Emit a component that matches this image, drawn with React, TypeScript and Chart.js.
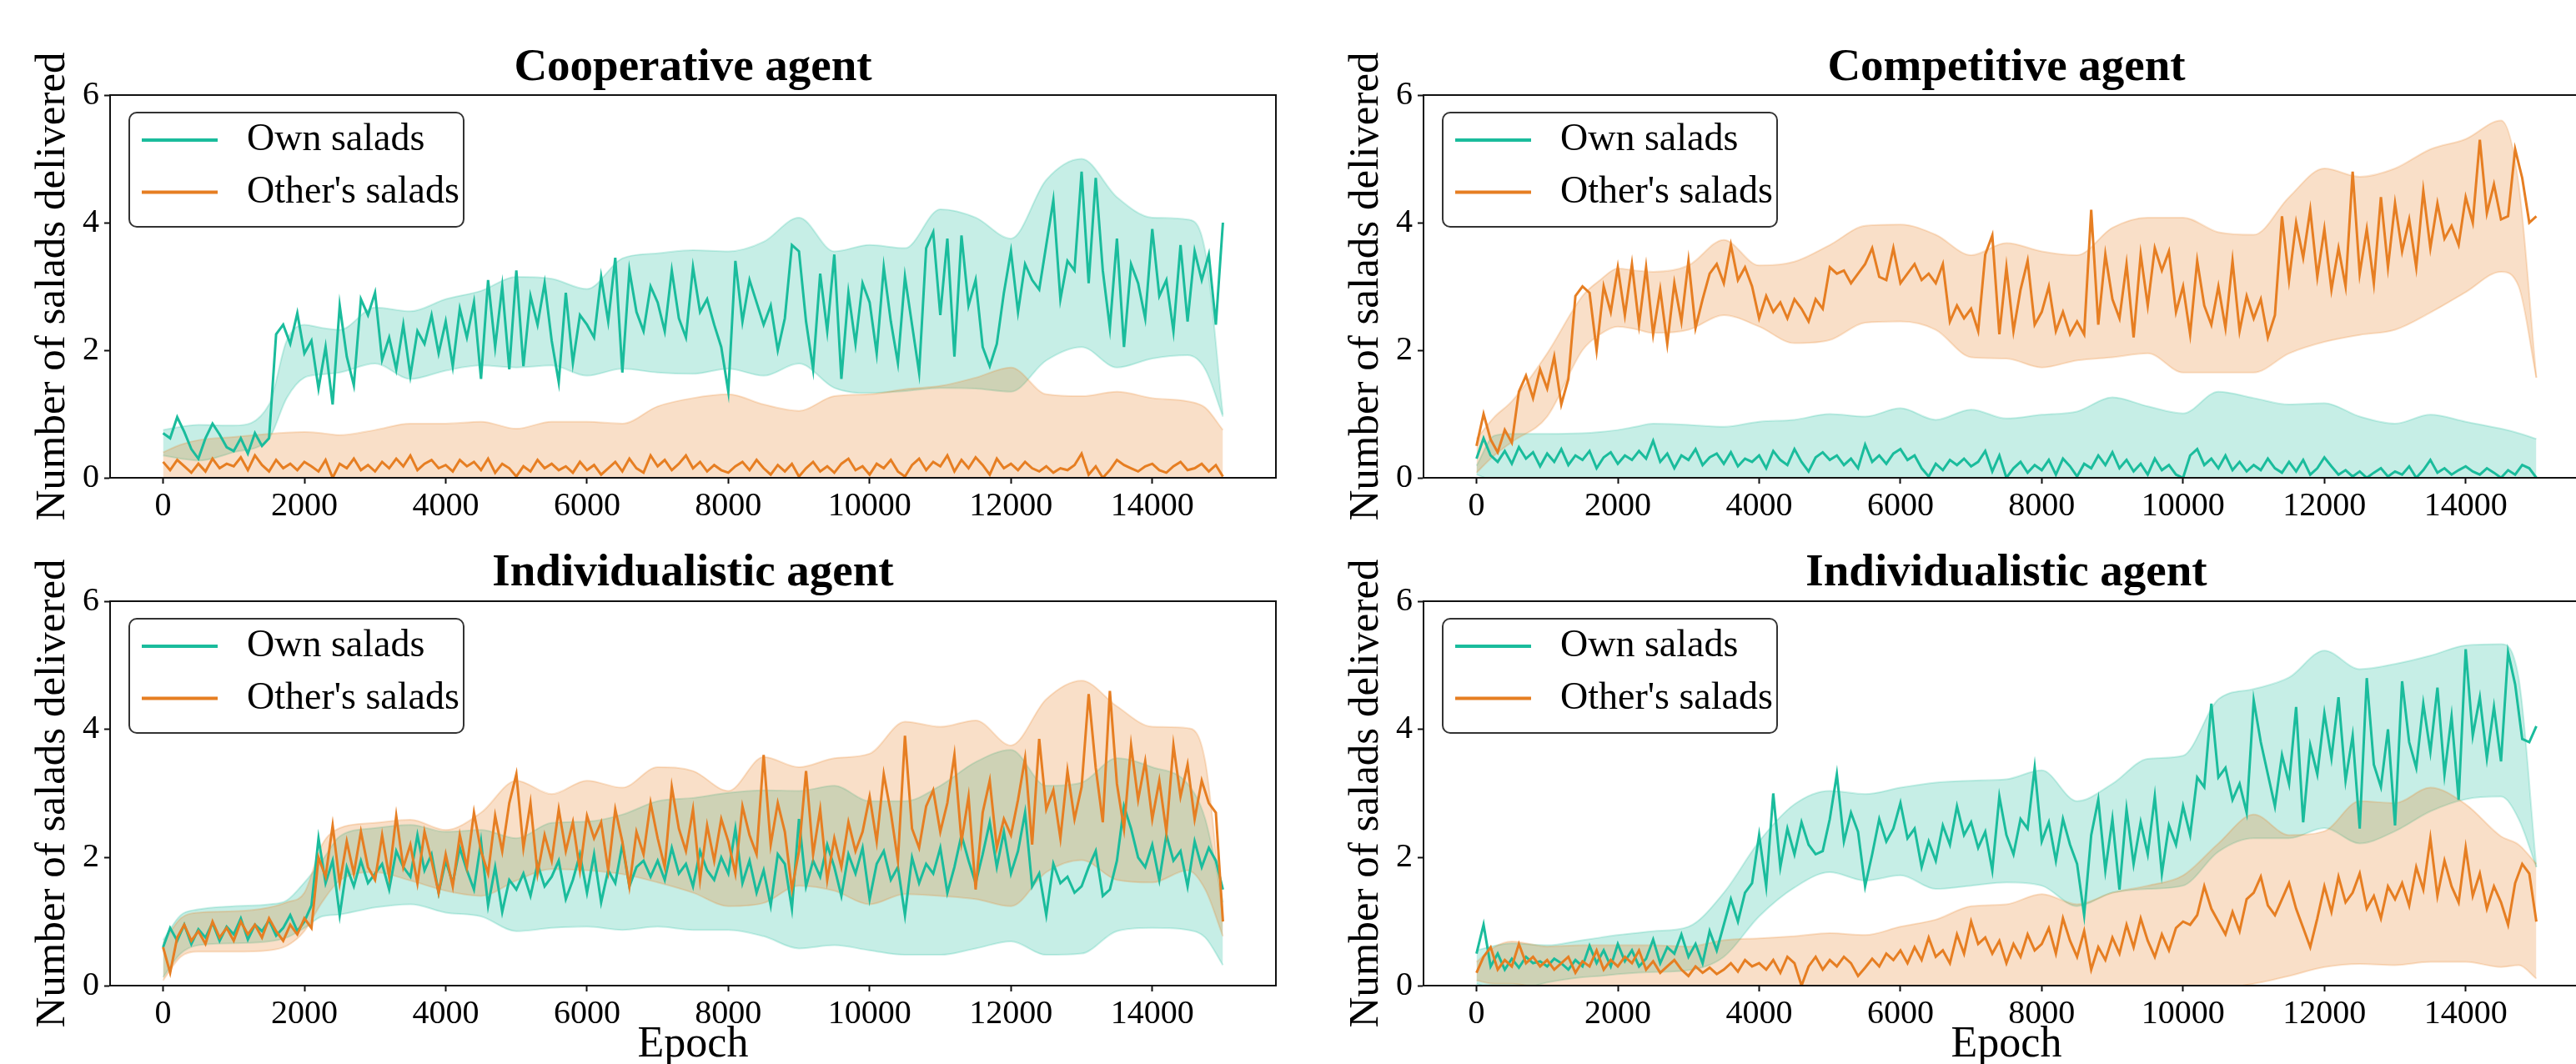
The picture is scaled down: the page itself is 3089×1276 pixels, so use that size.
import React, { useEffect, useRef } from 'react';
import { Chart, registerables } from 'chart.js';

Chart.register(...registerables);

// ---------- data ----------
const LINE_STEP = 100;
const lineEpochs: number[] = Array.from({ length: 151 }, (_, i) => i * LINE_STEP);
const bandEpochs = [0, 250, 500, 1000, 1500, 1750, 2000, 2250, 2500, 3000, 3500, 4000, 4500, 5000, 5500, 6000, 6500, 7000, 7500, 8000, 8500, 9000, 9500, 10000, 10500, 11000, 11500, 12000, 12500, 13000, 13500, 14000, 14500, 14750, 15000];
const xTicks = [0, 2000, 4000, 6000, 8000, 10000, 12000, 14000];
const yTicks = [0, 2, 4, 6];
const LEGEND = ['Own salads', "Other's salads"];
const TITLES = ['Cooperative agent', 'Competitive agent', 'Individualistic agent', 'Individualistic agent'];
const Y_TITLE = 'Number of salads delivered';
const X_TITLE = 'Epoch';

// Cooperative agent
const coopOwn = [
  0.70, 0.62, 0.95, 0.72, 0.45, 0.30, 0.62, 0.85, 0.68, 0.48,
  0.42, 0.62, 0.38, 0.70, 0.50, 0.62, 2.25, 2.40, 2.10, 2.58,
  1.95, 2.15, 1.40, 2.05, 1.15, 2.70, 1.90, 1.45, 2.80, 2.55,
  2.90, 1.85, 2.20, 1.70, 2.40, 1.60, 2.30, 2.10, 2.55, 1.95,
  2.45, 1.75, 2.65, 2.20, 2.75, 1.55, 3.10, 2.05, 3.00, 1.70,
  3.25, 1.75, 2.85, 2.40, 3.05, 2.15, 1.50, 2.90, 1.80, 2.55,
  2.40, 2.20, 3.15, 2.45, 3.45, 1.65, 3.25, 2.60, 2.30, 3.00,
  2.75, 2.30, 3.25, 2.50, 2.20, 3.30, 2.60, 2.80, 2.40, 2.05,
  1.35, 3.40, 2.45, 3.10, 2.75, 2.40, 2.70, 2.00, 2.50, 3.65,
  3.55, 2.45, 1.70, 3.20, 2.30, 3.50, 1.55, 2.90, 2.10, 3.05,
  2.75, 1.95, 3.30, 2.45, 1.80, 3.15, 2.40, 1.65, 3.60, 3.85,
  2.55, 3.75, 1.90, 3.80, 2.70, 3.10, 2.05, 1.75, 2.10, 2.90,
  3.55, 2.60, 3.35, 3.10, 2.95, 3.65, 4.35, 2.80, 3.40, 3.25,
  4.80, 3.05, 4.70, 3.25, 2.35, 3.75, 2.05, 3.35, 3.05, 2.50,
  3.90, 2.85, 3.10, 2.30, 3.65, 2.45, 3.55, 3.10, 3.50, 2.40,
  4.00,
];
const coopOther = [
  0.25, 0.12, 0.28, 0.18, 0.08, 0.22, 0.10, 0.30, 0.15, 0.22,
  0.18, 0.32, 0.12, 0.35, 0.20, 0.10, 0.28, 0.15, 0.22, 0.12,
  0.25, 0.18, 0.10, 0.28, 0.00, 0.22, 0.15, 0.30, 0.12, 0.20,
  0.10, 0.25, 0.15, 0.30, 0.18, 0.35, 0.12, 0.22, 0.28, 0.15,
  0.20, 0.10, 0.28, 0.18, 0.25, 0.12, 0.30, 0.08, 0.22, 0.15,
  0.02, 0.18, 0.10, 0.28, 0.15, 0.22, 0.12, 0.18, 0.08, 0.25,
  0.12, 0.20, 0.05, 0.15, 0.25, 0.10, 0.30, 0.15, 0.08, 0.35,
  0.18, 0.28, 0.12, 0.22, 0.35, 0.15, 0.25, 0.10, 0.20, 0.12,
  0.08, 0.18, 0.25, 0.12, 0.28, 0.15, 0.05, 0.20, 0.10, 0.22,
  0.02, 0.15, 0.25, 0.10, 0.18, 0.08, 0.22, 0.30, 0.12, 0.18,
  0.05, 0.22, 0.15, 0.28, 0.10, 0.02, 0.20, 0.30, 0.12, 0.25,
  0.18, 0.35, 0.10, 0.28, 0.15, 0.32, 0.20, 0.05, 0.30, 0.15,
  0.22, 0.12, 0.25, 0.15, 0.10, 0.18, 0.08, 0.15, 0.12, 0.20,
  0.38, 0.05, 0.18, 0.00, 0.12, 0.28, 0.20, 0.15, 0.10, 0.18,
  0.22, 0.12, 0.08, 0.18, 0.25, 0.12, 0.15, 0.22, 0.10, 0.20,
  0.02,
];
const coopOwnHi = [0.75, 0.80, 0.83, 0.82, 1.15, 2.15, 2.40, 2.35, 2.32, 2.67, 2.61, 2.80, 2.93, 3.15, 3.12, 2.96, 3.44, 3.52, 3.57, 3.55, 3.70, 4.08, 3.55, 3.65, 3.60, 4.21, 4.08, 3.75, 4.67, 5.00, 4.40, 4.08, 4.05, 3.55, 0.99];
const coopOwnLo = [0.35, 0.30, 0.27, 0.40, 0.62, 1.25, 1.57, 1.62, 1.65, 1.79, 1.55, 1.68, 1.76, 1.73, 1.76, 1.60, 1.71, 1.65, 1.63, 1.71, 1.60, 1.79, 1.41, 1.33, 1.36, 1.41, 1.40, 1.35, 1.84, 2.05, 1.73, 1.87, 1.92, 1.70, 0.96];
const coopOtherHi = [0.40, 0.52, 0.59, 0.64, 0.69, 0.71, 0.72, 0.70, 0.67, 0.75, 0.85, 0.85, 0.88, 0.77, 0.88, 0.88, 0.85, 1.12, 1.25, 1.31, 1.15, 1.05, 1.28, 1.31, 1.39, 1.44, 1.57, 1.73, 1.31, 1.28, 1.35, 1.25, 1.20, 1.10, 0.75];
const coopOtherLo = [-0.05, -0.08, -0.10, -0.12, -0.15, -0.15, -0.18, -0.20, -0.20, -0.22, -0.25, -0.25, -0.28, -0.25, -0.28, -0.30, -0.30, -0.35, -0.40, -0.42, -0.40, -0.38, -0.42, -0.45, -0.48, -0.50, -0.55, -0.60, -0.50, -0.48, -0.50, -0.45, -0.42, -0.35, -0.20];

// Competitive agent
const compOwn = [
  0.30, 0.62, 0.35, 0.25, 0.42, 0.22, 0.48, 0.30, 0.40, 0.18,
  0.38, 0.25, 0.45, 0.20, 0.35, 0.28, 0.42, 0.15, 0.32, 0.40,
  0.22, 0.35, 0.28, 0.42, 0.30, 0.58, 0.25, 0.38, 0.15, 0.35,
  0.28, 0.45, 0.20, 0.32, 0.38, 0.22, 0.40, 0.18, 0.30, 0.25,
  0.35, 0.15, 0.42, 0.28, 0.20, 0.45, 0.25, 0.10, 0.32, 0.40,
  0.28, 0.35, 0.20, 0.30, 0.15, 0.52, 0.25, 0.35, 0.22, 0.38,
  0.45, 0.28, 0.35, 0.15, 0.02, 0.22, 0.12, 0.28, 0.20, 0.30,
  0.18, 0.25, 0.42, 0.10, 0.35, 0.00, 0.15, 0.25, 0.08, 0.20,
  0.12, 0.28, 0.05, 0.30, 0.18, 0.02, 0.22, 0.15, 0.35, 0.20,
  0.40, 0.15, 0.28, 0.10, 0.22, 0.05, 0.30, 0.12, 0.20, 0.05,
  0.00, 0.35, 0.45, 0.20, 0.30, 0.15, 0.35, 0.12, 0.25, 0.10,
  0.20, 0.12, 0.30, 0.15, 0.08, 0.25, 0.10, 0.28, 0.05, 0.15,
  0.32, 0.18, 0.05, 0.12, 0.02, 0.10, 0.00, 0.08, 0.15, 0.02,
  0.10, 0.05, 0.18, 0.00, 0.12, 0.28, 0.08, 0.15, 0.05, 0.12,
  0.18, 0.10, 0.05, 0.15, 0.08, 0.00, 0.12, 0.05, 0.20, 0.15,
  0.00,
];
const compOther = [
  0.50, 1.00, 0.60, 0.40, 0.75, 0.55, 1.35, 1.60, 1.25, 1.70,
  1.40, 1.90, 1.15, 1.55, 2.85, 3.00, 2.90, 2.00, 3.00, 2.60,
  3.30, 2.55, 3.35, 2.40, 3.30, 2.25, 2.95, 2.10, 3.05, 2.45,
  3.40, 2.35, 2.80, 3.20, 3.35, 3.05, 3.65, 3.10, 3.30, 3.00,
  2.50, 2.85, 2.60, 2.75, 2.50, 2.80, 2.65, 2.45, 2.80, 2.65,
  3.30, 3.20, 3.25, 3.05, 3.20, 3.35, 3.60, 3.15, 3.10, 3.60,
  3.05, 3.20, 3.35, 3.10, 3.20, 3.05, 3.35, 2.45, 2.70, 2.50,
  2.65, 2.30, 3.50, 3.80, 2.25, 3.30, 2.30, 2.95, 3.40, 2.40,
  2.60, 3.00, 2.30, 2.60, 2.25, 2.45, 2.25, 4.20, 2.40, 3.50,
  2.80, 2.50, 3.35, 2.20, 3.50, 2.70, 3.60, 3.25, 3.55, 2.60,
  3.00, 2.25, 3.40, 2.70, 2.40, 3.00, 2.35, 3.40, 2.30, 2.85,
  2.50, 2.80, 2.20, 2.55, 4.10, 3.10, 4.00, 3.45, 4.20, 3.15,
  3.90, 2.95, 3.60, 3.00, 4.80, 3.20, 3.90, 3.05, 4.40, 3.30,
  4.30, 3.55, 4.05, 3.30, 4.50, 3.60, 4.30, 3.75, 3.95, 3.65,
  4.40, 4.00, 5.30, 4.15, 4.60, 4.05, 4.10, 5.15, 4.70, 4.00,
  4.10,
];
const compOwnHi = [0.19, 0.66, 0.69, 0.69, 0.70, 0.72, 0.75, 0.80, 0.85, 0.83, 0.80, 0.88, 0.91, 1.00, 0.96, 1.09, 0.91, 1.07, 0.93, 0.99, 1.04, 1.26, 1.12, 1.01, 1.35, 1.25, 1.15, 1.17, 0.96, 0.85, 0.99, 0.88, 0.77, 0.70, 0.61];
const compOwnLo = [0.05, -0.05, -0.08, -0.10, -0.12, -0.12, -0.15, -0.15, -0.18, -0.18, -0.20, -0.20, -0.22, -0.25, -0.25, -0.28, -0.25, -0.28, -0.30, -0.30, -0.32, -0.35, -0.35, -0.38, -0.40, -0.40, -0.38, -0.35, -0.32, -0.30, -0.30, -0.28, -0.25, -0.22, -0.20];
const compOtherHi = [0.61, 0.95, 1.20, 1.95, 2.85, 3.10, 3.28, 3.25, 3.23, 3.33, 3.73, 3.33, 3.39, 3.65, 3.95, 3.97, 3.81, 3.49, 3.68, 3.55, 3.49, 3.92, 4.08, 4.08, 3.85, 3.81, 4.40, 4.85, 4.72, 4.85, 5.15, 5.31, 5.60, 4.60, 1.57];
const compOtherLo = [0.08, 0.35, 0.56, 0.96, 2.00, 2.25, 2.37, 2.33, 2.27, 2.32, 2.55, 2.37, 2.11, 2.16, 2.43, 2.45, 2.32, 1.89, 1.87, 1.73, 1.84, 1.89, 1.95, 1.65, 1.65, 1.65, 1.95, 2.13, 2.24, 2.32, 2.59, 2.91, 3.23, 3.00, 1.57];

// Individualistic agent (left)
const indLOwn = [
  0.60, 0.90, 0.70, 0.95, 0.65, 0.88, 0.75, 0.98, 0.70, 0.92,
  0.80, 1.05, 0.72, 0.95, 0.85, 1.02, 0.78, 0.90, 1.10, 0.85,
  1.00, 1.25, 2.30, 1.60, 1.95, 1.10, 1.85, 1.55, 1.95, 1.60,
  1.75, 1.90, 1.50, 2.10, 1.85, 1.70, 2.35, 1.80, 2.05, 1.45,
  1.95, 1.60, 2.15, 1.80, 1.50, 2.25, 1.25, 1.85, 1.15, 1.65,
  1.50, 1.75, 1.40, 1.90, 1.55, 1.70, 1.95, 1.35, 1.65, 2.05,
  1.45, 2.05, 1.30, 1.80, 1.60, 2.20, 1.55, 1.85, 1.95, 1.70,
  1.95, 1.65, 2.15, 1.75, 1.90, 1.55, 2.10, 1.80, 1.65, 2.00,
  1.75, 2.45, 1.60, 1.95, 1.45, 1.80, 1.25, 2.05, 1.90, 1.20,
  2.60, 1.55, 1.95, 1.70, 2.20, 1.85, 1.40, 2.05, 1.75, 2.15,
  1.35, 1.90, 2.10, 1.65, 1.85, 1.10, 2.00, 1.60, 1.90, 1.75,
  2.15, 1.45, 1.85, 2.35, 1.95, 1.60, 2.05, 2.55, 1.85, 2.40,
  1.75, 2.10, 2.70, 1.55, 1.75, 1.10, 1.90, 1.60, 1.70, 1.45,
  1.55, 1.85, 2.10, 1.40, 1.50, 1.95, 2.80, 2.45, 2.00, 1.85,
  2.20, 1.65, 2.35, 1.95, 2.10, 1.55, 2.25, 1.85, 2.15, 1.95,
  1.50,
];
const indLOther = [
  0.60, 0.20, 0.75, 0.95, 0.70, 0.85, 0.65, 1.00, 0.75, 0.90,
  0.70, 1.00, 0.80, 0.95, 0.75, 1.05, 0.85, 0.70, 0.95, 0.80,
  1.05, 0.90, 2.00, 1.70, 2.50, 1.60, 2.25, 1.75, 2.40, 1.85,
  1.65, 2.35, 1.70, 2.65, 1.85, 2.20, 1.60, 2.40, 1.95, 1.45,
  2.05, 1.55, 2.35, 1.85, 2.70, 2.10, 1.75, 2.65, 2.10, 2.85,
  3.30, 2.15, 2.85, 1.75, 2.35, 1.95, 2.75, 2.10, 2.55, 1.80,
  2.65, 2.30, 2.55, 1.80, 2.75, 2.25, 1.55, 2.40, 2.05, 2.85,
  2.30, 1.85, 3.10, 2.45, 2.10, 2.75, 1.65, 2.50, 1.95, 2.60,
  2.25, 1.75, 2.80, 2.35, 2.05, 3.60, 2.20, 2.85, 2.40, 1.50,
  2.10, 3.35, 2.05, 2.75, 1.65, 2.30, 1.85, 2.55, 2.10, 2.40,
  2.95, 2.25, 3.30, 2.70, 1.95, 3.90, 2.45, 2.15, 2.80, 3.05,
  2.40, 2.85, 3.60, 2.25, 2.95, 1.50, 2.70, 3.20, 2.15, 2.60,
  2.35, 2.90, 3.55, 2.20, 3.85, 2.75, 3.05, 2.30, 3.35, 2.60,
  3.10, 4.55, 3.40, 2.55, 4.60, 3.15, 2.45, 3.75, 2.90, 3.50,
  2.60, 3.20, 2.40, 3.75, 2.95, 3.45, 2.60, 3.20, 2.85, 2.70,
  1.00,
];
const indLOwnHi = [0.71, 1.10, 1.19, 1.24, 1.27, 1.33, 1.61, 1.95, 2.33, 2.46, 2.51, 2.40, 2.43, 2.30, 2.54, 2.56, 2.67, 2.88, 2.93, 3.01, 3.05, 3.04, 3.12, 2.88, 2.88, 3.12, 3.49, 3.68, 3.12, 3.17, 3.55, 3.41, 3.15, 2.60, 1.30];
const indLOwnLo = [0.13, 0.50, 0.63, 0.66, 0.69, 0.75, 0.90, 1.08, 1.11, 1.22, 1.27, 1.14, 1.08, 0.85, 0.90, 0.92, 0.87, 0.92, 0.87, 0.87, 0.77, 0.58, 0.63, 0.55, 0.48, 0.48, 0.58, 0.69, 0.48, 0.50, 0.85, 0.90, 0.87, 0.75, 0.32];
const indLOtherHi = [0.66, 1.05, 1.14, 1.16, 1.22, 1.30, 1.45, 2.20, 2.46, 2.54, 2.59, 2.43, 2.70, 3.20, 2.99, 3.20, 3.09, 3.41, 3.35, 3.04, 3.57, 3.41, 3.55, 3.62, 4.12, 4.04, 4.14, 3.75, 4.47, 4.76, 4.36, 4.04, 4.02, 3.50, 1.00];
const indLOtherLo = [0.08, 0.45, 0.53, 0.53, 0.55, 0.62, 0.85, 1.30, 1.64, 1.77, 1.64, 1.48, 1.40, 1.64, 1.82, 1.80, 1.74, 1.61, 1.45, 1.24, 1.29, 1.56, 1.48, 1.27, 1.43, 1.40, 1.35, 1.24, 1.77, 1.96, 1.65, 1.61, 1.80, 1.50, 0.77];

// Individualistic agent (right)
const indROwn = [
  0.50, 0.95, 0.30, 0.50, 0.25, 0.42, 0.28, 0.45, 0.35, 0.38,
  0.30, 0.42, 0.35, 0.25, 0.40, 0.30, 0.62, 0.35, 0.55, 0.30,
  0.65, 0.38, 0.55, 0.30, 0.42, 0.72, 0.35, 0.60, 0.50, 0.80,
  0.45, 0.65, 0.35, 0.85, 0.55, 0.95, 1.35, 1.00, 1.45, 1.60,
  2.35, 1.55, 3.00, 1.85, 2.45, 2.05, 2.55, 2.20, 2.05, 2.10,
  2.60, 3.30, 2.25, 2.70, 2.40, 1.55, 2.05, 2.60, 2.25, 2.45,
  2.85, 2.30, 2.45, 1.85, 2.25, 1.95, 2.50, 2.20, 2.80, 2.35,
  2.55, 2.15, 2.40, 1.80, 2.95, 2.35, 2.05, 2.60, 2.45, 3.40,
  2.25, 2.55, 1.95, 2.60, 2.20, 1.90, 1.10, 2.35, 2.90, 1.80,
  2.60, 1.50, 2.75, 1.90, 2.55, 2.05, 2.95, 1.75, 2.50, 2.20,
  2.80, 2.35, 3.25, 3.10, 4.40, 3.25, 3.40, 2.90, 3.15, 2.70,
  4.45, 3.80, 3.30, 2.80, 3.60, 3.15, 4.35, 2.55, 3.75, 3.30,
  4.25, 3.55, 4.50, 3.20, 3.90, 2.45, 4.80, 3.45, 3.10, 4.00,
  2.50, 4.75, 3.80, 3.40, 4.40, 3.65, 4.65, 3.30, 4.20, 2.90,
  5.25, 3.90, 4.50, 3.55, 4.35, 3.50, 5.20, 4.70, 3.85, 3.80,
  4.05,
];
const indROther = [
  0.20, 0.45, 0.60, 0.25, 0.40, 0.30, 0.65, 0.35, 0.45, 0.30,
  0.40, 0.25, 0.35, 0.45, 0.20, 0.38, 0.30, 0.55, 0.25, 0.40,
  0.30, 0.45, 0.35, 0.55, 0.25, 0.38, 0.20, 0.30, 0.40, 0.25,
  0.15, 0.30, 0.20, 0.28, 0.18, 0.25, 0.35, 0.22, 0.40, 0.30,
  0.35, 0.25, 0.40, 0.20, 0.45, 0.35, 0.00, 0.30, 0.45, 0.25,
  0.40, 0.30, 0.45, 0.35, 0.15, 0.28, 0.42, 0.30, 0.50, 0.40,
  0.55, 0.35, 0.60, 0.40, 0.75, 0.45, 0.55, 0.35, 0.80, 0.50,
  1.00, 0.65, 0.75, 0.50, 0.70, 0.35, 0.65, 0.45, 0.80, 0.55,
  0.65, 0.90, 0.50, 1.05, 0.70, 0.45, 0.85, 0.25, 0.60, 0.40,
  0.75, 0.50, 0.95, 0.60, 1.05, 0.70, 0.45, 0.80, 0.55, 0.90,
  1.00, 0.95, 1.10, 1.55, 1.20, 1.00, 0.80, 1.15, 0.85, 1.35,
  1.45, 1.70, 1.25, 1.10, 1.35, 1.60, 1.20, 0.90, 0.60, 1.05,
  1.55, 1.15, 1.70, 1.30, 1.45, 1.75, 1.20, 1.40, 1.05, 1.55,
  1.35, 1.60, 1.25, 1.85, 1.50, 2.30, 1.40, 1.95, 1.55, 1.30,
  2.15, 1.40, 1.75, 1.20, 1.55, 1.30, 0.95, 1.60, 1.90, 1.75,
  1.00,
];
const indROwnHi = [0.55, 0.62, 0.66, 0.63, 0.71, 0.75, 0.79, 0.82, 0.85, 0.92, 1.45, 2.25, 2.83, 3.04, 2.99, 3.09, 3.17, 3.20, 3.22, 3.36, 2.88, 3.15, 3.54, 3.59, 4.47, 4.63, 4.81, 5.23, 4.94, 5.02, 5.15, 5.31, 5.33, 4.80, 1.85];
const indROwnLo = [0.03, -0.05, -0.08, 0.05, 0.13, 0.15, 0.18, 0.20, 0.21, 0.24, 0.45, 1.08, 1.53, 1.77, 1.64, 1.72, 1.51, 1.56, 1.61, 1.56, 1.24, 1.45, 1.51, 1.56, 2.09, 2.30, 2.30, 2.46, 2.22, 2.41, 2.72, 2.91, 2.95, 2.60, 1.85];
const indROtherHi = [0.37, 0.60, 0.69, 0.61, 0.63, 0.63, 0.63, 0.63, 0.63, 0.61, 0.71, 0.74, 0.77, 0.82, 0.79, 0.92, 1.03, 1.24, 1.27, 1.43, 1.27, 1.45, 1.56, 1.72, 2.22, 2.67, 2.35, 2.41, 2.88, 2.85, 3.09, 2.83, 2.33, 2.20, 1.90];
const indROtherLo = [0.08, 0.03, 0.03, -0.05, -0.03, -0.05, -0.05, -0.06, -0.08, -0.10, -0.12, -0.15, -0.15, -0.18, -0.20, -0.22, -0.25, -0.25, -0.28, -0.25, -0.22, -0.20, -0.18, -0.12, -0.05, 0.03, 0.15, 0.29, 0.34, 0.32, 0.37, 0.37, 0.29, 0.32, 0.11];

// ---------- styling ----------
const FONT = "'Liberation Serif', 'Times New Roman', serif";
const TEAL = '#1abc9c';
const ORANGE = '#e67e22';
const TEAL_FILL = 'rgba(26,188,156,0.25)';
const ORANGE_FILL = 'rgba(230,126,34,0.25)';
const TEAL_EDGE = 'rgba(26,188,156,0.22)';
const ORANGE_EDGE = 'rgba(230,126,34,0.22)';
const INK = '#111';

Chart.defaults.font.family = FONT;

type PanelSpec = {
  title: string;
  own: number[]; other: number[];
  ownHi: number[]; ownLo: number[];
  otherHi: number[]; otherLo: number[];
  left: number; top: number; isRight: boolean; isBottom: boolean;
};

const PANELS: PanelSpec[] = [
  { title: TITLES[0], own: coopOwn, other: coopOther, ownHi: coopOwnHi, ownLo: coopOwnLo, otherHi: coopOtherHi, otherLo: coopOtherLo, left: 0, top: 0, isRight: false, isBottom: false },
  { title: TITLES[1], own: compOwn, other: compOther, ownHi: compOwnHi, ownLo: compOwnLo, otherHi: compOtherHi, otherLo: compOtherLo, left: 1545, top: 0, isRight: true, isBottom: false },
  { title: TITLES[2], own: indLOwn, other: indLOther, ownHi: indLOwnHi, ownLo: indLOwnLo, otherHi: indLOtherHi, otherLo: indLOtherLo, left: 0, top: 638, isRight: false, isBottom: true },
  { title: TITLES[3], own: indROwn, other: indROther, ownHi: indROwnHi, ownLo: indROwnLo, otherHi: indROtherHi, otherLo: indROtherLo, left: 1545, top: 638, isRight: true, isBottom: true },
];

const pts = (xs: number[], ys: number[]) => ys.map((y, i) => ({ x: xs[i], y }));

const framePlugin = {
  id: 'frame',
  afterDatasetsDraw(chart: any) {
    const { ctx, chartArea } = chart;
    const { left, top, right, bottom } = chartArea;
    ctx.save();
    ctx.strokeStyle = INK;
    ctx.lineWidth = 2;
    ctx.strokeRect(left, top, right - left, bottom - top);
    ctx.restore();
  },
};

const legendPlugin = {
  id: 'boxLegend',
  afterDraw(chart: any) {
    const { ctx, chartArea } = chart;
    const x0 = chartArea.left + 23;
    const y0 = chartArea.top + 21;
    const w = 401;
    const h = 137;
    ctx.save();
    ctx.beginPath();
    ctx.roundRect(x0, y0, w, h, 9);
    ctx.fillStyle = 'rgba(255,255,255,0.8)';
    ctx.fill();
    ctx.strokeStyle = '#333';
    ctx.lineWidth = 2;
    ctx.stroke();
    const items = [
      { label: LEGEND[0], color: TEAL },
      { label: LEGEND[1], color: ORANGE },
    ];
    items.forEach((it, i) => {
      const y = y0 + 33 + i * 62.5;
      ctx.beginPath();
      ctx.moveTo(x0 + 15, y);
      ctx.lineTo(x0 + 106, y);
      ctx.strokeStyle = it.color;
      ctx.lineWidth = 4;
      ctx.stroke();
      ctx.fillStyle = '#000';
      ctx.font = `46px ${FONT}`;
      ctx.textBaseline = 'middle';
      ctx.textAlign = 'left';
      ctx.fillText(it.label, x0 + 141, y);
    });
    ctx.restore();
  },
};

function buildConfig(p: PanelSpec): any {
  const band = (ys: number[], fill: any, bg: string, edge: string) => ({
    label: '',
    data: pts(bandEpochs, ys),
    fill,
    backgroundColor: bg,
    borderColor: edge,
    borderWidth: 2,
    pointRadius: 0,
    cubicInterpolationMode: 'monotone',
    clip: 0,
  });
  const line = (label: string, ys: number[], color: string) => ({
    label,
    data: pts(lineEpochs, ys),
    fill: false,
    borderColor: color,
    backgroundColor: color,
    borderWidth: 3,
    pointRadius: 0,
    tension: 0,
    clip: 0,
  });
  const tickGrid = { drawOnChartArea: false, drawTicks: true, tickLength: 7, tickWidth: 2, color: INK };
  return {
    type: 'line',
    data: {
      datasets: [
        line(LEGEND[1], p.other, ORANGE),
        line(LEGEND[0], p.own, TEAL),
        band(p.otherHi, '+1', ORANGE_FILL, ORANGE_EDGE),
        band(p.otherLo, false, ORANGE_FILL, ORANGE_EDGE),
        band(p.ownHi, '+1', TEAL_FILL, TEAL_EDGE),
        band(p.ownLo, false, TEAL_FILL, TEAL_EDGE),
      ],
    },
    options: {
      responsive: false,
      animation: false,
      devicePixelRatio: 1,
      events: [],
      layout: { padding: { left: p.isRight ? 30 : 0, right: 15, top: 0, bottom: 0 } },
      plugins: {
        legend: { display: false },
        tooltip: { enabled: false },
        title: {
          display: true,
          text: p.title,
          fullSize: false,
          color: '#000',
          font: { family: FONT, size: 55, weight: 'bold', lineHeight: 1.0 },
          padding: p.isBottom ? { top: 22.5, bottom: 5.5 } : { top: 54, bottom: 5 },
        },
      },
      scales: {
        x: {
          type: 'linear',
          min: -750,
          max: 15750,
          afterBuildTicks: (s: any) => { s.ticks = xTicks.map((v) => ({ value: v })); },
          afterFit: (s: any) => { s.height = p.isBottom ? 94 : 65; },
          grid: tickGrid,
          border: { display: true, color: INK, width: 2 },
          ticks: {
            color: '#000',
            font: { family: FONT, size: 40 },
            padding: 3,
            maxRotation: 0,
            autoSkip: false,
            callback: (v: any) => String(v),
          },
          title: {
            display: p.isBottom,
            text: X_TITLE,
            color: '#000',
            font: { family: FONT, size: 52, lineHeight: 0.8 },
            padding: { top: 0, bottom: 1.6 },
          },
        },
        y: {
          type: 'linear',
          min: 0,
          max: 6,
          afterBuildTicks: (s: any) => { s.ticks = yTicks.map((v) => ({ value: v })); },
          afterFit: (s: any) => { s.width = 132; },
          grid: tickGrid,
          border: { display: true, color: INK, width: 2 },
          ticks: { color: '#000', font: { family: FONT, size: 40 }, padding: 6, callback: (v: any) => String(v) },
          title: {
            display: true,
            text: Y_TITLE,
            color: '#000',
            font: { family: FONT, size: 51, lineHeight: 1.2 },
            padding: { top: 33.4, bottom: 0 },
          },
        },
      },
    },
    plugins: [framePlugin, legendPlugin],
  };
}

function Panel({ spec }: { spec: PanelSpec }) {
  const ref = useRef<HTMLCanvasElement>(null);
  useEffect(() => {
    const chart = new Chart(ref.current as HTMLCanvasElement, buildConfig(spec));
    return () => chart.destroy();
  }, [spec]);
  const canvasW = spec.isRight ? 1575 : 1545;
  return (
    <div style={{ position: 'absolute', left: spec.left, top: spec.top, width: spec.isRight ? 1544 : 1545, height: 638, overflow: 'hidden' }}>
      <canvas ref={ref} width={canvasW} height={638} style={{ display: 'block', width: canvasW, height: 638 }} />
    </div>
  );
}

export default function App() {
  return (
    <div style={{ position: 'absolute', left: 0, top: 0, width: 3089, height: 1276, overflow: 'hidden', background: '#fff' }}>
      {PANELS.map((p, i) => (
        <Panel key={i} spec={p} />
      ))}
    </div>
  );
}
